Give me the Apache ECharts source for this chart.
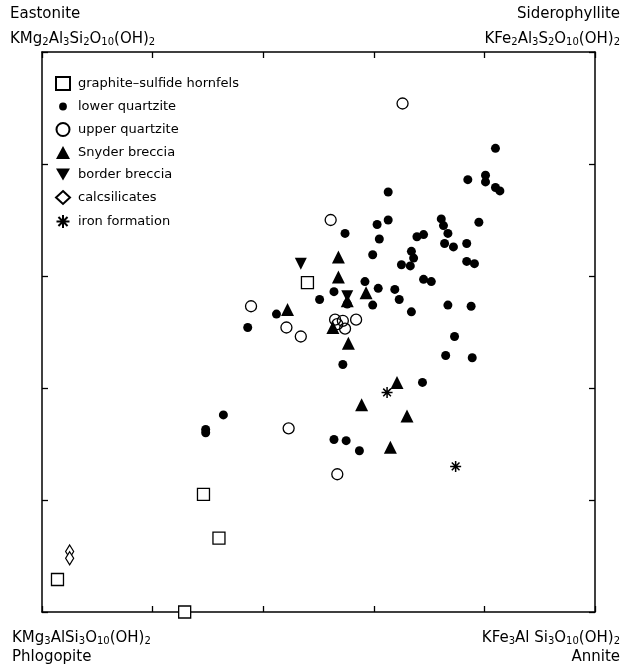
<!DOCTYPE html>
<html>
<head>
<meta charset="utf-8">
<script src="https://cdn.jsdelivr.net/npm/echarts@6/dist/echarts.min.js"></script>
<style>
html, body { margin: 0; padding: 0; background: #fff; }
#chart { width: 627px; height: 668px; }
</style>
</head>
<body>
<div id="chart"></div>
<script>
// composition data, plotted on a 0-5 scale on both axes
var hornfels = [[0.14,0.29],[1.29,0.0],[1.46,1.05],[1.60,0.66],[2.40,2.94]];
var lowerQuartzite = [
  [4.10,4.14],[3.85,3.86],[4.01,3.90],[4.01,3.84],[4.10,3.79],[4.14,3.76],
  [3.13,3.75],[3.13,3.50],[2.74,3.38],[3.03,3.46],[3.05,3.33],[2.99,3.19],
  [3.39,3.35],[3.45,3.37],[3.61,3.51],[3.63,3.45],[3.67,3.38],[3.64,3.29],
  [3.72,3.26],[3.95,3.48],[3.84,3.29],[3.84,3.13],[3.91,3.11],[3.34,3.22],
  [3.36,3.16],[3.25,3.10],[3.33,3.09],[2.92,2.95],[3.45,2.97],[3.52,2.95],
  [3.04,2.89],[3.19,2.88],[2.64,2.86],[2.51,2.79],[3.23,2.79],[2.99,2.74],
  [3.34,2.68],[3.67,2.74],[3.88,2.73],[2.76,2.75],[2.12,2.66],[1.86,2.54],
  [3.73,2.46],[3.65,2.29],[3.89,2.27],[2.72,2.21],[3.44,2.05],[2.64,1.54],
  [2.75,1.53],[2.87,1.44],[1.64,1.76],[1.48,1.63],[1.48,1.60]
];
var upperQuartzite = [
  [3.26,4.54],[2.61,3.50],[1.89,2.73],[2.65,2.61],[2.72,2.60],[2.67,2.57],
  [2.74,2.53],[2.84,2.61],[2.21,2.54],[2.34,2.46],[2.23,1.64],[2.67,1.23]
];
var snyderBreccia = [
  [2.68,3.17],[2.68,2.99],[2.93,2.85],[2.22,2.70],[2.63,2.54],[2.77,2.40],
  [3.21,2.05],[2.89,1.85],[3.30,1.75],[3.15,1.47],[2.76,2.78]
];
var borderBreccia = [[2.34,3.11],[2.76,2.82]];
var calcsilicates = [[0.25,0.54],[0.25,0.48]];
var ironFormation = [[3.12,1.96],[3.74,1.30]];

var seriesNames = ['graphite\u2013sulfide hornfels','lower quartzite','upper quartzite',
  'Snyder breccia','border breccia','calcsilicates','iron formation'];

var chart = echarts.init(document.getElementById('chart'));

var font = 'DejaVu Sans';
var axisCommon = {
  type: 'value',
  min: 0,
  max: 5,
  interval: 1,
  axisLine: { show: true, onZero: false, lineStyle: { color: '#000', width: 1.5 } },
  axisTick: { show: true, inside: true, length: 6, lineStyle: { color: '#000', width: 1.3 } },
  axisLabel: { show: false },
  splitLine: { show: false }
};

function formula(parts) {
  // parts alternate normal text and subscript
  var s = '';
  for (var i = 0; i < parts.length; i++) {
    s += (i % 2 === 0 ? '{n|' : '{s|') + parts[i] + '}';
  }
  return s;
}
var richF = {
  n: { fontSize: 15, fontFamily: font, color: '#000', lineHeight: 20, verticalAlign: 'bottom' },
  s: { fontSize: 10, fontFamily: font, color: '#000', lineHeight: 7, verticalAlign: 'bottom' }
};

function label(x, y, text, align, rich) {
  return {
    type: 'text',
    x: x,
    y: y,
    style: {
      text: text,
      align: align,
      verticalAlign: 'top',
      font: '15px ' + font,
      fill: '#000',
      rich: rich
    }
  };
}

// small dot icon for the legend (padded box so the dot stays small)
var smallDot = 'path://M0,0M20,20M4,10A6,6 0 1,1 16,10A6,6 0 1,1 4,10Z';

option = {
  animation: false,
  backgroundColor: '#fff',
  grid: { left: 42, right: 32, top: 52, bottom: 56, containLabel: false },
  xAxis: [
    Object.assign({ position: 'bottom' }, axisCommon),
    Object.assign({ position: 'top' }, axisCommon)
  ],
  yAxis: [
    Object.assign({ position: 'left' }, axisCommon),
    Object.assign({ position: 'right' }, axisCommon)
  ],
  legend: {
    orient: 'vertical',
    left: 50,
    top: 71,
    itemWidth: 14,
    itemHeight: 13,
    itemGap: 9,
    textStyle: { fontSize: 13, fontFamily: font, color: '#000', padding: [0, 0, 0, 3] },
    data: [
      seriesNames[0],
      { name: seriesNames[1], icon: smallDot },
      seriesNames[2], seriesNames[3], seriesNames[4], seriesNames[5], seriesNames[6]
    ]
  },
  graphic: [
    label(10, 7, 'Eastonite', 'left'),
    label(10, 27, formula(['KMg','2','Al','3','Si','2','O','10','(OH)','2']), 'left', richF),
    label(620, 7, 'Siderophyllite', 'right'),
    label(620, 27, formula(['KFe','2','Al','3','S','2','O','10','(OH)','2']), 'right', richF),
    label(12, 626, formula(['KMg','3','AlSi','3','O','10','(OH)','2']), 'left', richF),
    label(12, 650, 'Phlogopite', 'left'),
    label(620, 626, formula(['KFe','3','Al Si','3','O','10','(OH)','2']), 'right', richF),
    label(620, 650, 'Annite', 'right')
  ],
  series: [
    {
      name: seriesNames[0], type: 'scatter', clip: false, data: hornfels,
      symbol: 'rect', symbolSize: 12,
      itemStyle: { color: '#fff', borderColor: '#000', borderWidth: 1.3, opacity: 1 }
    },
    {
      name: seriesNames[1], type: 'scatter', clip: false, data: lowerQuartzite,
      symbol: 'circle', symbolSize: 9,
      itemStyle: { color: '#000', opacity: 1 }
    },
    {
      name: seriesNames[2], type: 'scatter', clip: false, data: upperQuartzite,
      symbol: 'circle', symbolSize: 11,
      itemStyle: { color: 'rgba(255,255,255,0)', borderColor: '#000', borderWidth: 1.3, opacity: 1 }
    },
    {
      name: seriesNames[3], type: 'scatter', clip: false, data: snyderBreccia,
      symbol: 'triangle', symbolSize: 13,
      itemStyle: { color: '#000', opacity: 1 }
    },
    {
      name: seriesNames[4], type: 'scatter', clip: false, data: borderBreccia,
      symbol: 'path://M0,0L20,0L10,17Z', symbolSize: 12,
      itemStyle: { color: '#000', opacity: 1 }
    },
    {
      name: seriesNames[5], type: 'scatter', clip: false, data: calcsilicates,
      symbol: 'diamond', symbolSize: [8, 13],
      itemStyle: { color: '#fff', borderColor: '#000', borderWidth: 1.3, opacity: 1 }
    },
    {
      name: seriesNames[6], type: 'scatter', clip: false, data: ironFormation,
      symbol: 'path://M10,0L10,20M0,10L20,10M3,3L17,17M3,17L17,3', symbolSize: 11,
      itemStyle: { color: '#000', borderColor: '#000', borderWidth: 1.5, opacity: 1 }
    }
  ]
};

chart.setOption(option);
</script>
</body>
</html>
